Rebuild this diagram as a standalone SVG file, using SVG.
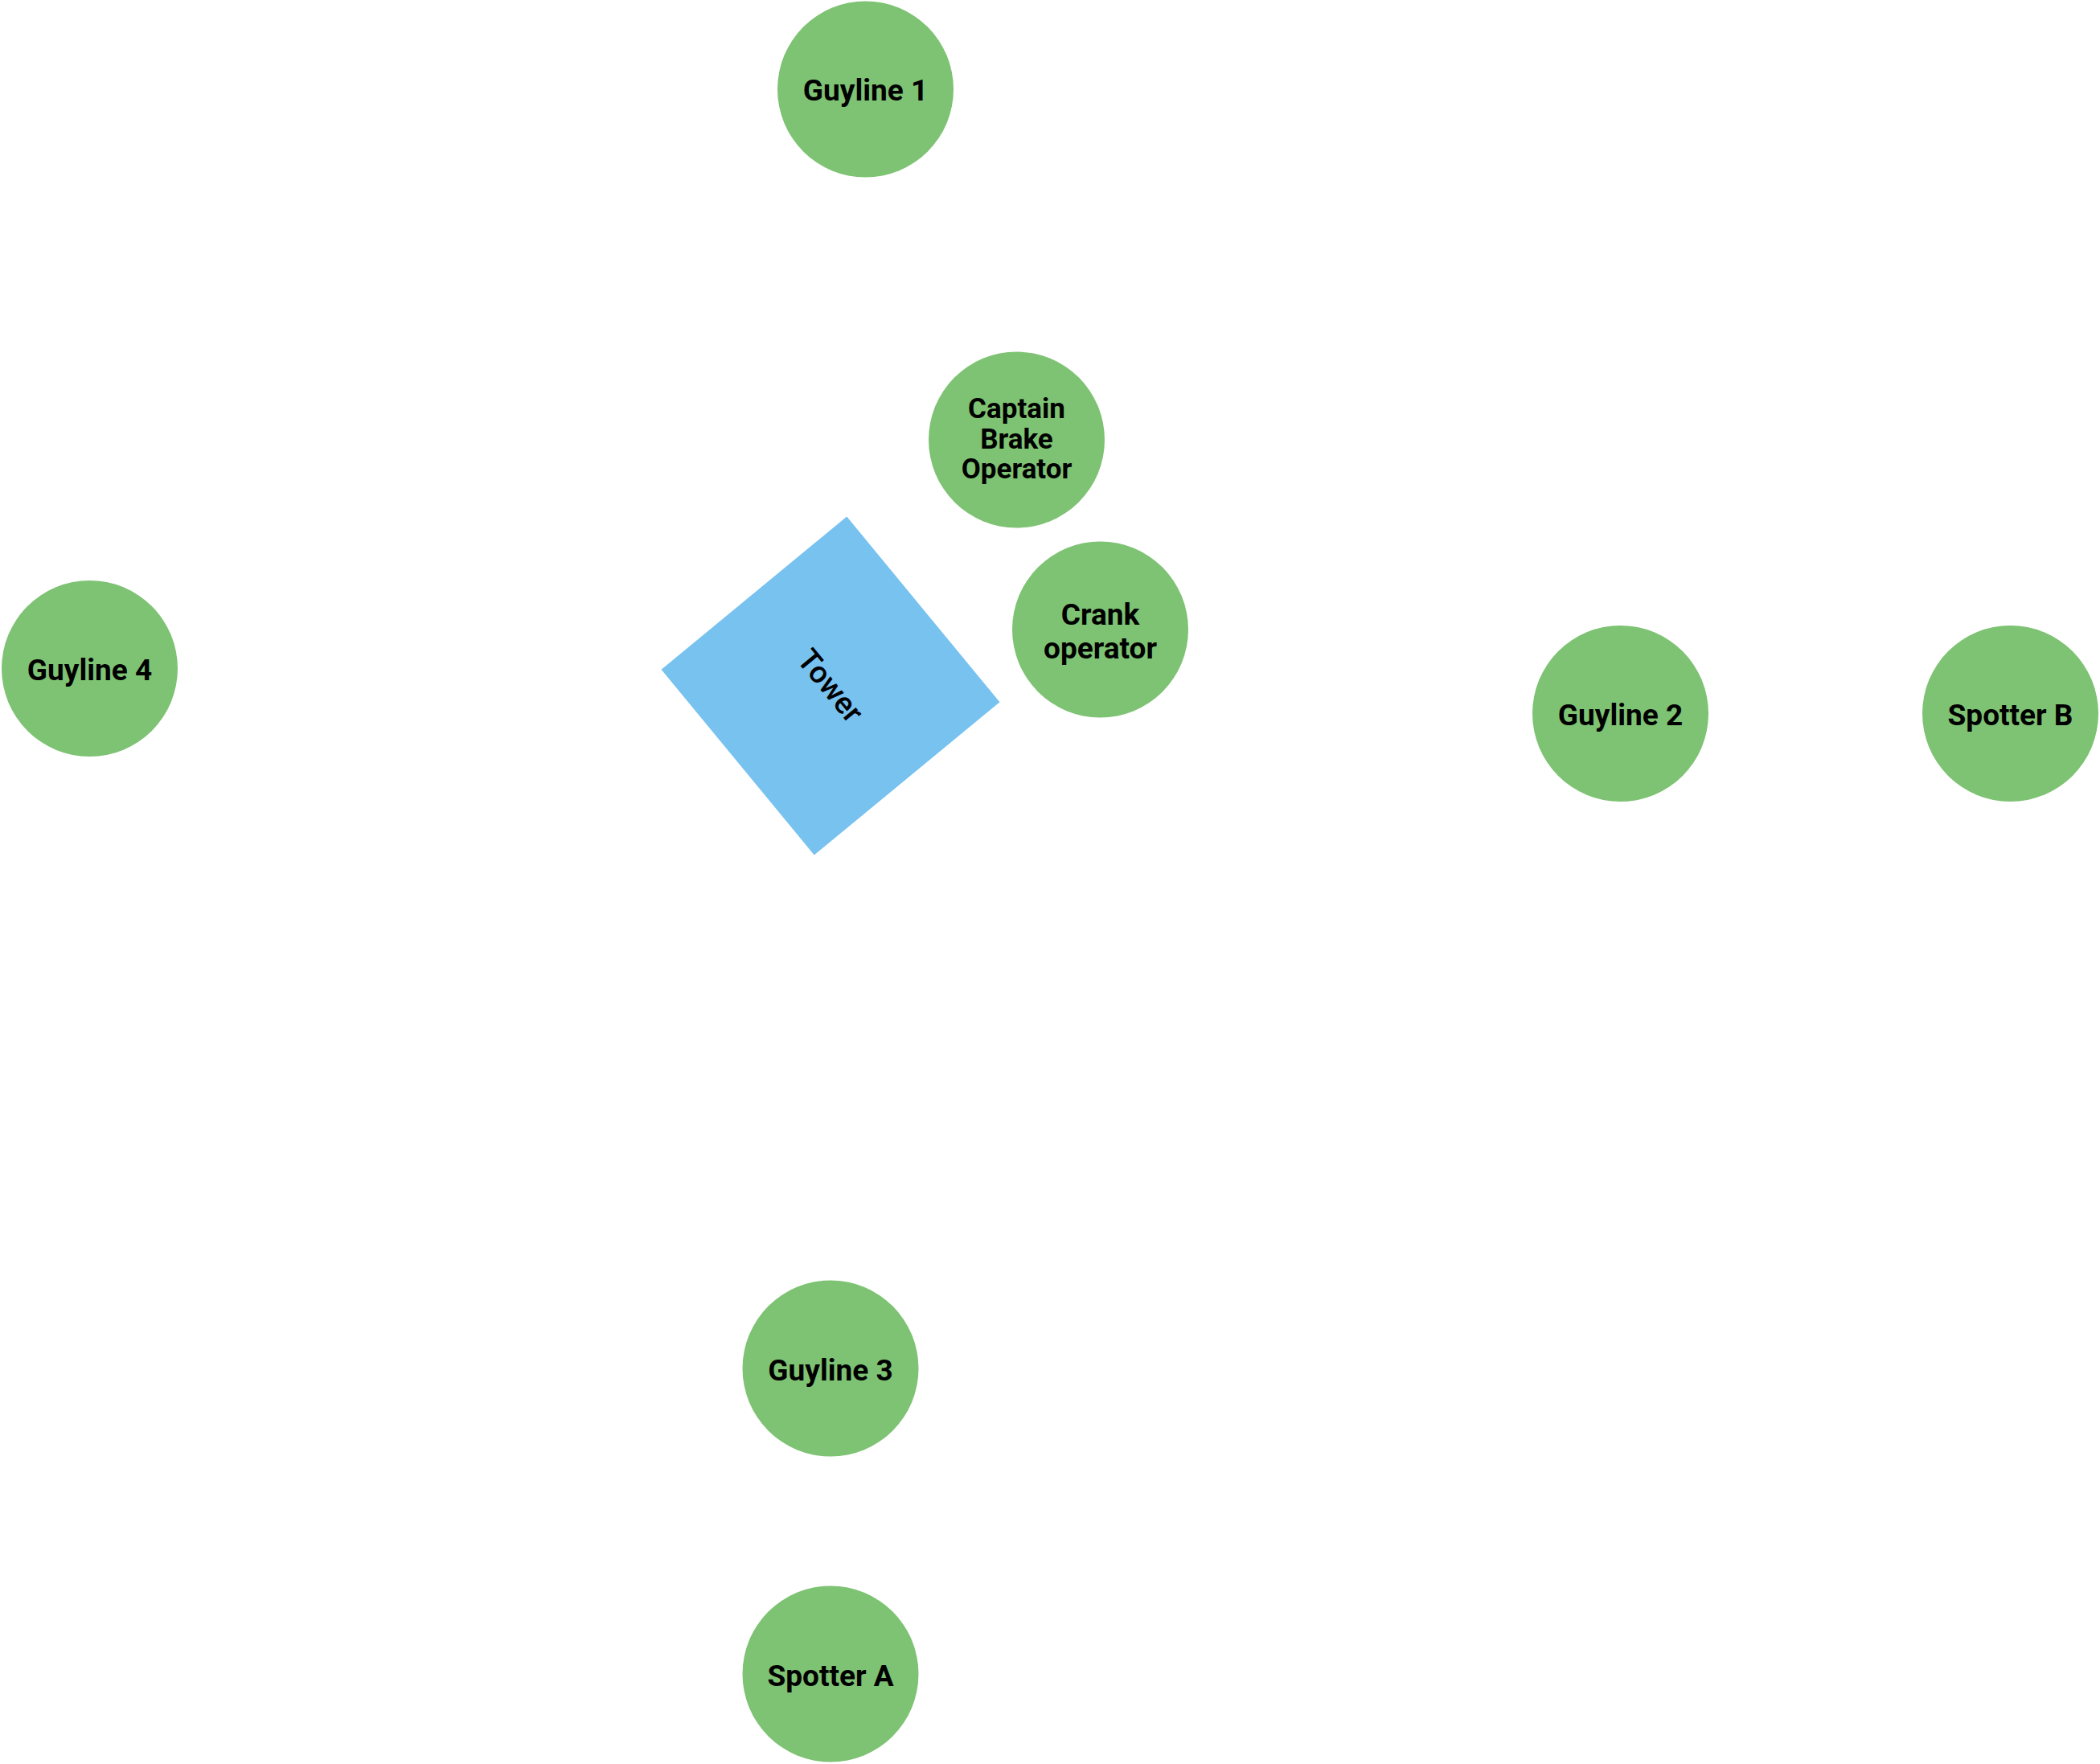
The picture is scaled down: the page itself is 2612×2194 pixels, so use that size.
<svg xmlns="http://www.w3.org/2000/svg" width="2612" height="2194" viewBox="0 0 2612 2194">
<style>
.person{fill:#7ec373;}
.tower{fill:#78c2f0;}
.lbl{font-family:Roboto,"Liberation Sans",sans-serif;font-weight:bold;font-size:37px;fill:#000;text-anchor:middle;}
.small{font-size:35px;}
.tl{font-family:Roboto,"Liberation Sans",sans-serif;font-weight:500;font-size:38px;fill:#000;text-anchor:middle;}
</style>
<rect width="2612" height="2194" fill="#ffffff"/>
<g id="connectors"></g>
<g id="tower" transform="translate(1033,853) rotate(50.5)">
<rect class="tower" x="-149.5" y="-149.5" width="299" height="299"/>
<text class="tl" x="0" y="13">Tower</text>
</g>
<g id="guyline1">
<circle class="person" cx="1076.5" cy="111" r="109.5"/>
<text class="lbl" x="1076.5" y="125">Guyline 1</text>
</g>
<g id="captain">
<circle class="person" cx="1264.5" cy="547" r="109.5"/>
<text class="lbl small" x="1264.5" y="520">Captain</text>
<text class="lbl small" x="1264.5" y="557.5">Brake</text>
<text class="lbl small" x="1264.5" y="595">Operator</text>
</g>
<g id="crank">
<circle class="person" cx="1368.5" cy="783" r="109.5"/>
<text class="lbl" x="1368.5" y="777">Crank</text>
<text class="lbl" x="1368.5" y="818.5">operator</text>
</g>
<g id="guyline4">
<circle class="person" cx="111.5" cy="831.5" r="109.5"/>
<text class="lbl" x="111.5" y="846">Guyline 4</text>
</g>
<g id="guyline2">
<circle class="person" cx="2015.5" cy="887.5" r="109.5"/>
<text class="lbl" x="2015.5" y="902">Guyline 2</text>
</g>
<g id="spotterB">
<circle class="person" cx="2500.5" cy="887.5" r="109.5"/>
<text class="lbl" x="2500.5" y="902">Spotter B</text>
</g>
<g id="guyline3">
<circle class="person" cx="1033" cy="1702" r="109.5"/>
<text class="lbl" x="1033" y="1716.5">Guyline 3</text>
</g>
<g id="spotterA">
<circle class="person" cx="1033" cy="2082" r="109.5"/>
<text class="lbl" x="1033" y="2096.5">Spotter A</text>
</g>
</svg>
